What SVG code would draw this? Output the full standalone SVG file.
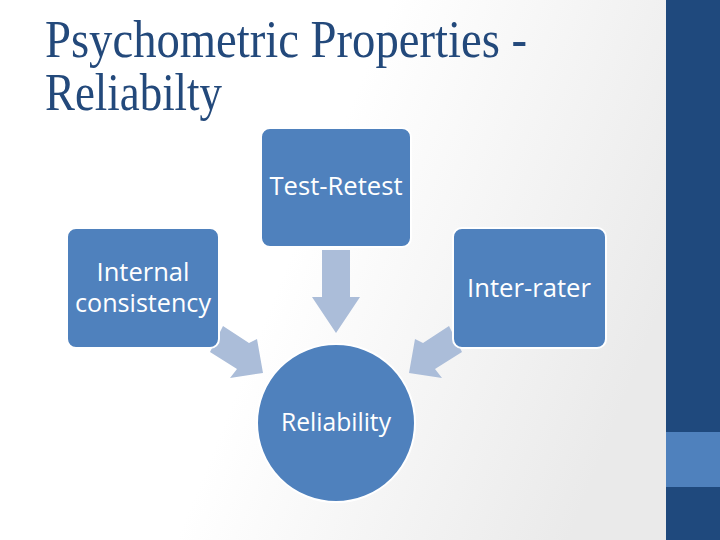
<svg xmlns="http://www.w3.org/2000/svg" width="720" height="540" viewBox="0 0 720 540">
<defs>
<linearGradient id="bg" x1="0" y1="0" x2="1" y2="0.3">
<stop offset="0.5" stop-color="#ffffff"/>
<stop offset="1" stop-color="#eaeaea"/>
</linearGradient>
<style>
.node{fill:#4f81bd;stroke:#ffffff;stroke-width:2}
.lbl{font-family:"Open Sans","Liberation Sans",sans-serif;font-size:25px;fill:#ffffff;text-anchor:middle}
.arr{fill:#abbdd9}
.title{font-family:"Liberation Serif",serif;font-size:52px;fill:#23497b}
</style>
</defs>
<rect width="720" height="540" fill="url(#bg)"/>
<rect x="666" y="0" width="54" height="540" fill="#1f497d"/>
<rect x="666" y="432" width="54" height="55" fill="#4f81bd"/>
<g id="title">
<text class="title" x="45" y="57" textLength="482" lengthAdjust="spacingAndGlyphs">Psychometric Properties -</text>
<text class="title" x="45" y="110" textLength="177" lengthAdjust="spacingAndGlyphs">Reliabilty</text>
</g>
<g id="connectors">
<polygon class="arr" points="322,250 350,250 350,297 360,297 336,333 312,297 322,297"/>
<polygon class="arr" points="223,326 249,343 257,339 263,373 230,378 237,369 210,352"/>
<polygon class="arr" points="449,326 423,343 415,339 409,373 442,378 435,369 462,352"/>
</g>
<g id="test-retest">
<rect class="node" x="261" y="128" width="150" height="119" rx="9"/>
<text class="lbl" x="336" y="195" textLength="133" lengthAdjust="spacingAndGlyphs">Test-Retest</text>
</g>
<g id="internal-consistency">
<rect class="node" x="67" y="228" width="152" height="120" rx="9"/>
<text class="lbl" x="143" y="281" textLength="93" lengthAdjust="spacingAndGlyphs">Internal</text>
<text class="lbl" x="143" y="312" textLength="136" lengthAdjust="spacingAndGlyphs">consistency</text>
</g>
<g id="inter-rater">
<rect class="node" x="453" y="228" width="153" height="120" rx="9"/>
<text class="lbl" x="529" y="297" textLength="124" lengthAdjust="spacingAndGlyphs">Inter-rater</text>
</g>
<g id="reliability">
<circle class="node" cx="336" cy="423" r="79"/>
<text class="lbl" x="336" y="431" textLength="110" lengthAdjust="spacingAndGlyphs">Reliability</text>
</g>
</svg>
